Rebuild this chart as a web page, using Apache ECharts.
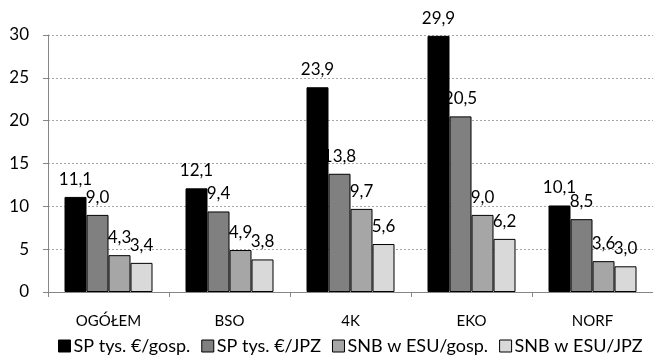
<!DOCTYPE html>
<html>
<head>
<meta charset="utf-8">
<script src="https://cdn.jsdelivr.net/npm/echarts@6/dist/echarts.min.js"></script>
<style>
  html, body { margin: 0; padding: 0; background: #fff; }
  #container { width: 653px; height: 355px; }
</style>
</head>
<body>
<div id="container"></div>
<script>
var categories = ["OGÓŁEM", "BSO", "4K", "EKO", "NORF"];
var seriesNames = ["SP tys. €/gosp.", "SP tys. €/JPZ", "SNB w ESU/gosp.", "SNB w ESU/JPZ"];
var spGosp = [11.1, 12.1, 23.9, 29.9, 10.1];
var spJpz = [9.0, 9.4, 13.8, 20.5, 8.5];
var snbGosp = [4.3, 4.9, 9.7, 9.0, 3.6];
var snbJpz = [3.4, 3.8, 5.6, 6.2, 3.0];
var colors = ["#000000", "#808080", "#a6a6a6", "#d9d9d9"];

var dom = document.getElementById("container");
var myChart = echarts.init(dom);
var font = "Lato, sans-serif";

function makeSeries(name, data, color) {
    return {
        name: name,
        type: "bar",
        data: data,
        barWidth: 22,
        barGap: "0%",
        itemStyle: { color: color, borderColor: "#000", borderWidth: 1 },
        label: {
            show: true,
            position: "top",
            distance: 9,
            color: "#000",
            fontFamily: font,
            fontSize: 17,
            formatter: function (p) {
                return p.value.toFixed(1).replace(".", ",");
            },
        },
    };
}

var option = {
    animation: false,
    color: colors,
    grid: { left: 48, right: 0, top: 35, bottom: 63, containLabel: false },
    legend: {
        top: 332,
        left: 53,
        itemWidth: 12,
        itemHeight: 12,
        itemGap: 11,
        icon: "rect",
        textStyle: { fontFamily: font, fontSize: 18, color: "#000", padding: [0, 0, 0, -2] },
        itemStyle: { borderColor: "#000", borderWidth: 1 },
        data: seriesNames,
    },
    xAxis: {
        type: "category",
        data: categories,
        axisLine: { lineStyle: { color: "#868686" } },
        axisTick: { show: true, alignWithLabel: false, length: 5, lineStyle: { color: "#868686" } },
        axisLabel: { fontFamily: font, fontSize: 15, color: "#000", margin: 22 },
    },
    yAxis: {
        type: "value",
        min: 0,
        max: 30,
        interval: 5,
        axisLine: { show: true, lineStyle: { color: "#868686" } },
        axisTick: { show: true, length: 5, lineStyle: { color: "#868686" } },
        axisLabel: { fontFamily: font, fontSize: 17, color: "#000", margin: 19 },
        splitLine: { show: true, lineStyle: { color: "#a6a6a6", type: [2, 2] } },
    },
    series: [
        makeSeries(seriesNames[0], spGosp, colors[0]),
        makeSeries(seriesNames[1], spJpz, colors[1]),
        makeSeries(seriesNames[2], snbGosp, colors[2]),
        makeSeries(seriesNames[3], snbJpz, colors[3]),
    ],
};

myChart.setOption(option);
</script>
</body>
</html>
